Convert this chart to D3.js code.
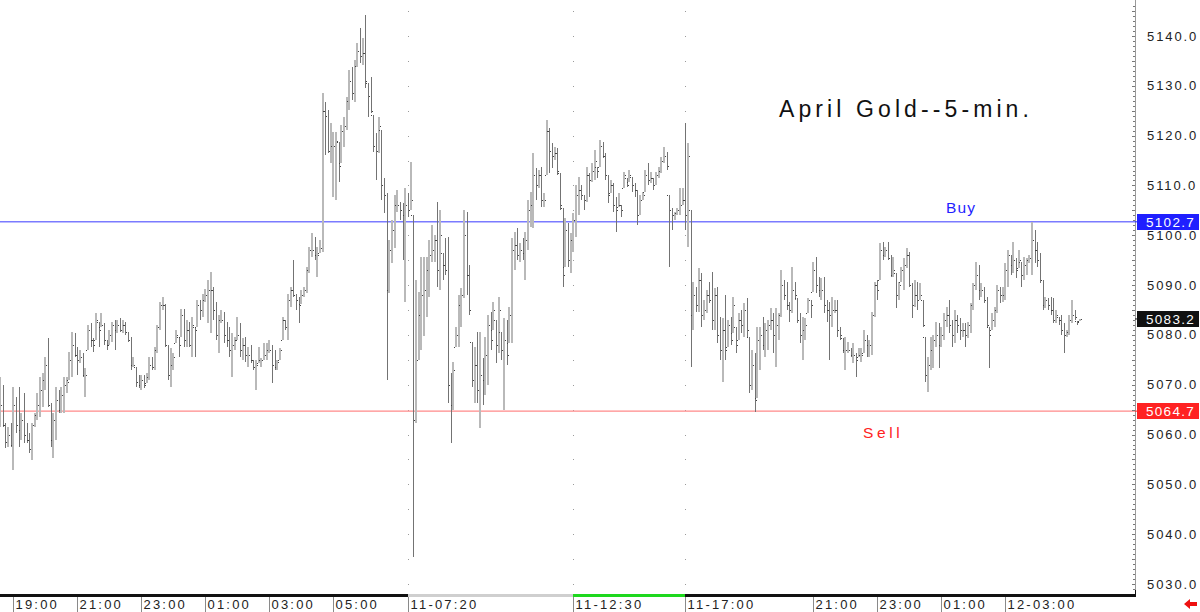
<!DOCTYPE html>
<html>
<head>
<meta charset="utf-8">
<script src="https://cdn.jsdelivr.net/npm/d3@7"></script>
<style>
html,body{margin:0;padding:0;background:#fff;}
svg{display:block;}
text{font-family:"Liberation Sans",Arial,sans-serif;}
</style>
</head>
<body>
<svg id="chart" width="1200" height="612"></svg>
<script>
// ---------- DATA ----------
const title = "April Gold--5-min.";
const buyLevel = 5102.7, sellLevel = 5064.7, lastPrice = 5083.2;
const buyLabel = "Buy", sellLabel = "Sell";
const yTicks = [5030,5040,5050,5060,5070,5080,5090,5100,5110,5120,5130,5140];
const timeLabels = ["19:00","21:00","23:00","01:00","03:00","05:00","11-07:20","11-12:30","11-17:00","21:00","23:00","01:00","12-03:00"];
const timeLabelIdx = [5,29,53,77,101,125,153,215,257,305,329,353,377];
const sessionIdx = [153,215,257];
const firstOpen = 5064.0;

const high = [
5071.5,5070.0,5062.3,5061.5,5062.3,5069.5,5067.5,5069.5,5064.3,5068.3,
5062.3,5060.3,5062.3,5064.3,5068.3,5071.5,5072.3,5075.5,5079.4,5066.3,
5064.3,5069.5,5068.9,5069.5,5071.5,5071.5,5076.5,5080.6,5080.4,5077.6,
5076.9,5076.3,5073.3,5082.0,5082.4,5079.4,5084.4,5082.6,5084.4,5082.4,
5079.0,5081.0,5082.6,5083.0,5083.0,5083.4,5083.0,5082.6,5080.6,5079.6,
5075.6,5073.6,5071.9,5071.9,5071.9,5072.3,5075.6,5075.6,5077.6,5082.0,
5086.6,5087.6,5086.3,5077.9,5077.3,5076.3,5081.0,5079.6,5085.3,5085.3,
5083.0,5082.6,5083.6,5081.6,5087.0,5087.0,5088.3,5089.3,5091.0,5092.7,
5089.7,5086.6,5084.0,5085.0,5084.6,5082.6,5081.6,5080.3,5079.6,5083.6,
5082.3,5079.3,5079.6,5077.6,5077.9,5074.9,5074.9,5077.6,5075.3,5078.3,
5078.3,5079.0,5077.9,5077.0,5074.9,5077.3,5083.6,5083.0,5088.3,5089.7,
5095.0,5088.3,5087.6,5089.0,5089.7,5093.6,5097.6,5100.4,5099.6,5097.6,
5099.0,5128.6,5126.7,5125.1,5122.5,5120.7,5120.7,5118.7,5122.1,5123.7,
5127.8,5133.2,5133.8,5135.2,5138.6,5141.6,5139.6,5144.2,5130.6,5131.8,
5124.1,5120.5,5123.7,5121.1,5111.5,5108.5,5099.0,5103.1,5108.1,5109.1,
5106.7,5106.5,5109.5,5108.5,5114.7,5104.1,5091.0,5088.6,5095.6,5095.6,
5095.6,5099.0,5102.0,5100.0,5106.7,5105.1,5096.4,5099.4,5099.6,5072.3,
5074.5,5081.6,5088.0,5089.4,5105.1,5104.7,5094.0,5078.6,5077.6,5080.6,
5080.6,5075.3,5079.6,5084.0,5084.6,5086.6,5083.0,5087.6,5080.6,5083.4,
5083.0,5085.6,5099.4,5100.6,5101.4,5098.4,5099.4,5100.6,5107.1,5108.7,
5116.5,5113.5,5113.1,5113.7,5108.5,5123.1,5121.5,5118.5,5117.7,5117.5,
5112.5,5105.5,5103.5,5102.4,5100.4,5104.5,5110.1,5111.7,5110.1,5108.1,
5113.7,5112.5,5114.5,5117.1,5113.7,5119.1,5118.7,5116.5,5112.1,5111.1,
5110.5,5107.7,5108.5,5106.1,5112.7,5111.5,5113.1,5111.7,5110.5,5109.1,
5108.1,5108.7,5113.1,5114.5,5112.7,5111.5,5112.7,5113.7,5115.7,5117.7,
5116.7,5108.1,5105.5,5104.7,5105.5,5109.5,5109.5,5122.5,5118.5,5105.1,
5090.6,5089.6,5093.4,5092.4,5087.0,5089.0,5090.6,5092.6,5089.4,5089.6,
5083.6,5083.4,5088.0,5083.0,5083.6,5087.6,5081.6,5084.4,5085.0,5086.4,
5087.4,5079.6,5076.9,5076.3,5081.6,5081.6,5083.6,5082.4,5083.0,5085.4,
5084.4,5085.4,5084.4,5093.0,5091.0,5090.6,5086.6,5093.6,5090.6,5087.4,
5084.4,5083.6,5083.4,5087.4,5087.0,5094.6,5095.6,5091.6,5091.4,5091.6,
5087.0,5086.6,5087.6,5087.0,5087.0,5081.6,5079.4,5079.6,5078.6,5077.3,
5078.4,5076.3,5077.3,5077.3,5081.0,5080.0,5079.0,5084.6,5090.6,5091.0,
5098.4,5098.6,5097.6,5098.6,5096.0,5095.6,5092.4,5090.6,5093.6,5095.4,
5097.4,5096.6,5090.4,5091.0,5090.6,5090.4,5087.0,5079.6,5075.5,5079.6,
5080.0,5082.6,5082.4,5081.6,5084.4,5085.6,5087.0,5083.0,5085.0,5084.0,
5083.4,5082.4,5082.4,5082.6,5086.4,5090.4,5094.6,5094.0,5090.4,5089.6,
5087.6,5081.6,5084.4,5085.6,5090.0,5089.6,5089.6,5094.4,5097.0,5096.0,
5098.6,5095.4,5097.0,5094.6,5095.6,5095.4,5096.0,5102.7,5101.0,5098.6,
5096.4,5091.0,5087.6,5087.4,5087.6,5087.4,5085.0,5083.6,5084.0,5082.4,
5081.0,5084.0,5087.0,5085.0,5082.8,5083.2
];

const low = [
5061.5,5061.5,5057.3,5057.5,5057.5,5052.8,5060.3,5057.5,5058.9,5058.3,
5058.3,5056.3,5054.9,5061.5,5062.9,5063.5,5065.5,5068.9,5065.5,5057.5,
5055.3,5058.9,5064.3,5064.3,5064.3,5068.3,5070.9,5071.5,5075.5,5071.9,
5074.3,5071.5,5067.5,5076.9,5077.6,5076.5,5079.0,5077.6,5081.6,5078.0,
5076.9,5078.0,5078.6,5076.9,5080.4,5080.6,5080.4,5080.0,5078.6,5072.9,
5073.6,5069.6,5069.3,5068.9,5069.3,5070.3,5070.9,5072.9,5072.9,5076.3,
5081.0,5085.0,5077.6,5070.9,5069.6,5072.9,5078.3,5075.6,5079.6,5077.6,
5077.6,5077.6,5075.6,5075.6,5081.6,5083.0,5083.6,5086.6,5082.3,5080.3,
5083.0,5079.0,5076.3,5082.3,5078.3,5077.6,5075.6,5071.6,5077.0,5079.0,
5075.6,5074.9,5074.6,5073.6,5074.3,5072.9,5068.9,5074.3,5073.6,5074.9,
5074.9,5076.3,5070.3,5072.9,5072.9,5074.9,5079.0,5081.0,5079.0,5085.6,
5087.6,5085.0,5082.3,5086.3,5087.6,5088.4,5092.4,5095.6,5095.0,5091.6,
5096.4,5096.6,5116.1,5116.5,5114.5,5107.7,5107.1,5110.7,5114.5,5117.7,
5121.1,5125.1,5127.1,5126.7,5133.8,5134.6,5134.2,5129.6,5123.7,5124.5,
5116.7,5111.1,5116.5,5107.1,5104.5,5070.9,5088.4,5094.4,5097.4,5104.7,
5103.1,5095.0,5086.6,5103.7,5105.1,5035.4,5062.3,5074.9,5076.9,5079.8,
5083.6,5087.6,5094.6,5094.6,5089.6,5089.0,5091.0,5092.0,5066.3,5058.3,
5064.9,5077.6,5077.6,5081.6,5087.4,5088.0,5084.0,5069.5,5066.3,5066.3,
5061.3,5065.9,5067.9,5069.9,5076.9,5081.0,5074.3,5076.3,5074.9,5064.9,
5073.9,5078.4,5078.4,5093.0,5095.0,5094.6,5095.0,5091.0,5097.0,5101.7,
5101.4,5107.1,5109.5,5105.7,5105.7,5112.1,5112.5,5113.5,5115.1,5112.1,
5105.1,5089.6,5093.6,5093.6,5092.4,5096.6,5099.6,5104.1,5107.1,5105.1,
5106.7,5107.7,5110.7,5111.1,5111.5,5113.7,5115.5,5111.1,5106.5,5108.5,
5104.7,5100.6,5105.7,5103.7,5109.5,5109.7,5110.7,5108.7,5107.7,5102.0,
5104.1,5107.1,5108.7,5110.1,5110.5,5109.1,5110.1,5111.5,5112.5,5114.5,
5113.1,5093.6,5101.0,5103.1,5104.1,5104.1,5106.1,5101.0,5097.6,5073.5,
5081.0,5084.6,5084.6,5081.6,5083.0,5084.4,5086.4,5081.0,5081.0,5078.4,
5074.9,5070.5,5074.9,5077.6,5078.0,5080.4,5076.3,5079.0,5080.4,5079.6,
5079.6,5068.3,5068.9,5064.5,5067.3,5072.9,5076.9,5075.5,5076.9,5081.0,
5076.3,5073.5,5079.0,5083.6,5087.0,5085.0,5082.6,5084.4,5087.0,5082.4,
5078.4,5074.9,5079.0,5084.4,5083.4,5088.6,5088.4,5087.6,5087.0,5084.4,
5082.6,5074.9,5081.6,5084.4,5079.6,5079.0,5076.3,5072.9,5076.3,5075.5,
5074.3,5071.5,5075.5,5074.5,5076.3,5075.5,5075.5,5075.9,5083.6,5087.0,
5091.0,5095.0,5095.6,5095.0,5091.6,5091.6,5085.4,5087.0,5090.6,5089.0,
5093.4,5089.6,5083.4,5085.6,5085.0,5087.0,5081.6,5070.5,5068.5,5072.9,
5073.3,5077.6,5073.3,5077.6,5079.0,5081.6,5080.4,5077.6,5078.4,5080.4,
5079.0,5079.6,5077.6,5079.4,5080.4,5085.0,5089.0,5087.0,5087.6,5086.4,
5081.4,5073.3,5081.0,5081.6,5084.4,5086.4,5086.6,5087.0,5089.6,5092.0,
5092.4,5091.4,5093.4,5089.6,5091.0,5092.0,5094.4,5092.0,5094.4,5093.6,
5090.4,5085.0,5085.4,5085.0,5084.0,5082.4,5082.4,5082.0,5080.0,5076.3,
5079.6,5080.0,5082.4,5083.0,5082.0,5082.8
];

const close = [
5066.0,5062.0,5058.5,5060.0,5058.0,5066.0,5062.0,5061.0,5063.0,5060.0,
5059.0,5057.0,5062.0,5064.0,5066.0,5069.0,5071.0,5074.0,5066.0,5059.0,
5063.0,5067.0,5065.0,5068.0,5070.0,5070.5,5075.0,5078.0,5076.0,5075.0,
5075.5,5072.0,5072.0,5081.0,5079.0,5078.0,5083.0,5081.0,5082.0,5079.0,
5078.0,5080.0,5082.0,5081.0,5082.0,5081.0,5082.0,5080.5,5079.0,5074.0,
5074.0,5070.5,5070.0,5071.0,5070.0,5071.5,5074.0,5073.5,5077.0,5081.5,
5086.0,5086.0,5078.0,5072.0,5074.0,5075.5,5080.0,5078.0,5084.0,5079.0,
5081.0,5078.0,5082.0,5081.0,5086.0,5085.0,5087.0,5088.0,5089.0,5089.0,
5085.0,5080.0,5083.0,5083.0,5080.0,5079.0,5077.0,5078.0,5079.0,5080.0,
5077.0,5078.0,5076.0,5076.0,5075.0,5073.5,5074.0,5075.0,5075.0,5076.0,
5077.0,5077.0,5074.0,5073.5,5074.5,5077.0,5083.0,5081.5,5087.0,5089.0,
5088.0,5087.0,5086.0,5088.0,5089.0,5093.0,5097.0,5097.0,5096.0,5096.0,
5097.5,5125.0,5124.0,5117.0,5118.0,5118.0,5119.0,5114.0,5121.0,5122.0,
5127.0,5131.0,5128.5,5134.0,5137.0,5136.0,5136.5,5131.0,5128.0,5125.0,
5118.0,5117.0,5122.0,5110.0,5108.0,5089.0,5097.0,5101.0,5106.0,5106.0,
5105.0,5104.0,5106.0,5105.0,5107.0,5063.0,5075.0,5084.0,5088.0,5089.0,
5093.0,5096.0,5097.0,5099.0,5093.0,5100.0,5094.0,5093.0,5070.0,5066.0,
5073.0,5080.0,5086.0,5088.0,5100.0,5092.0,5085.0,5071.0,5074.0,5069.0,
5072.0,5071.0,5076.0,5082.0,5079.0,5085.0,5078.0,5085.0,5077.0,5079.0,
5076.0,5084.0,5097.0,5098.0,5096.0,5097.0,5096.5,5099.0,5105.0,5106.0,
5112.0,5110.0,5112.0,5107.0,5107.0,5121.0,5117.0,5116.0,5116.5,5113.0,
5106.0,5092.0,5101.0,5095.0,5099.0,5103.0,5108.0,5109.0,5108.0,5107.0,
5112.0,5111.0,5113.0,5115.0,5113.0,5118.0,5116.0,5112.0,5108.0,5110.0,
5106.0,5105.0,5106.0,5105.0,5112.0,5110.0,5112.0,5110.0,5109.0,5104.0,
5107.0,5108.0,5112.0,5111.0,5111.5,5110.0,5112.0,5113.0,5115.0,5116.0,
5114.0,5105.0,5104.0,5104.5,5105.0,5106.0,5107.0,5104.0,5116.0,5084.0,
5088.0,5086.0,5091.0,5084.0,5085.0,5088.0,5087.0,5083.0,5088.0,5080.0,
5077.0,5081.0,5077.0,5082.0,5079.0,5086.0,5078.0,5083.0,5082.0,5085.0,
5081.0,5070.0,5074.0,5067.0,5079.0,5080.0,5078.0,5081.0,5082.0,5083.0,
5080.0,5082.0,5084.0,5090.0,5088.0,5086.0,5085.0,5089.0,5088.0,5083.0,
5080.0,5081.0,5082.0,5087.0,5086.0,5093.0,5090.0,5089.0,5089.0,5086.0,
5085.0,5084.0,5085.0,5085.0,5081.0,5080.0,5077.0,5077.0,5077.0,5076.0,
5076.0,5075.0,5076.0,5076.0,5079.0,5078.0,5078.0,5084.0,5090.0,5089.0,
5097.0,5096.0,5097.0,5095.5,5092.0,5093.0,5088.0,5090.0,5093.0,5094.0,
5096.0,5090.0,5086.0,5088.0,5087.0,5088.0,5082.0,5072.0,5074.0,5077.0,
5079.0,5080.0,5078.0,5080.0,5083.0,5084.0,5082.0,5080.0,5083.0,5082.0,
5081.0,5081.0,5080.0,5082.0,5086.0,5090.0,5092.0,5089.0,5089.0,5087.0,
5082.0,5080.0,5083.0,5085.0,5089.0,5088.0,5088.0,5093.0,5096.0,5094.0,
5095.0,5093.0,5095.0,5092.0,5094.0,5095.0,5095.5,5099.0,5097.0,5095.0,
5091.0,5086.0,5087.0,5086.0,5085.0,5083.0,5084.0,5083.0,5081.0,5080.0,
5080.5,5083.0,5084.0,5083.5,5082.5,5083.2
];

// ---------- BUILD ----------
const n = Math.min(high.length, low.length, close.length);
const bars = [];
for (let i = 0; i < n; i++) {
  const prev = i === 0 ? firstOpen : close[i-1];
  const o = Math.max(low[i], Math.min(high[i], prev)); // open = prior close, within the bar's range
  bars.push({i, o, h: high[i], l: low[i], c: close[i]});
}

const svg = d3.select("#chart");
const W = 1200, H = 612;
const axisX = 1135;
const x = d3.scaleLinear().domain([0, 450]).range([0, 1200]);
const y = d3.scaleLinear().domain([5030, 5140]).range([584, 36]);

svg.append("rect").attr("width", W).attr("height", H).attr("fill", "#fff");

// session dotted verticals
const dotLevels = d3.range(5030, 5146, 5);
sessionIdx.forEach(si => {
  const px = Math.round(x(si));
  svg.append("g").selectAll("rect").data(dotLevels).join("rect")
    .attr("x", px).attr("y", d => Math.round(y(d))).attr("width", 1).attr("height", 1)
    .attr("fill", "#9a9a9a");
});

// buy/sell lines
svg.append("line").attr("x1", 0).attr("x2", axisX).attr("y1", y(buyLevel)).attr("y2", y(buyLevel))
  .attr("stroke", "#7b7bff").attr("stroke-width", 1.4);
svg.append("line").attr("x1", 0).attr("x2", axisX).attr("y1", y(sellLevel)).attr("y2", y(sellLevel))
  .attr("stroke", "#ff8a8a").attr("stroke-width", 1.4);

// bars
const gBars = svg.append("g").attr("shape-rendering", "crispEdges");
bars.forEach(b => {
  const up = b.c >= b.o;
  const cx = Math.round(x(b.i));
  const yh = y(b.h), yl = y(b.l);
  if (up) {
    gBars.append("rect").attr("x", cx - 1).attr("y", yh).attr("width", 2).attr("height", Math.max(1, yl - yh))
      .attr("fill", "#b9b9b9");
  } else {
    gBars.append("rect").attr("x", cx).attr("y", yh).attr("width", 1).attr("height", Math.max(1, yl - yh))
      .attr("fill", "#737373");
  }
  gBars.append("rect").attr("x", cx - 2).attr("y", Math.round(y(b.o))).attr("width", 1).attr("height", 1).attr("fill", "#444");
  gBars.append("rect").attr("x", cx + 1).attr("y", Math.round(y(b.c))).attr("width", 1).attr("height", 1).attr("fill", "#444");
});

// right axis
svg.append("line").attr("x1", axisX + 0.5).attr("x2", axisX + 0.5).attr("y1", 0).attr("y2", 596)
  .attr("stroke", "#9a9a9a").attr("stroke-width", 1);
const minor = d3.range(5029, 5147, 1);
svg.append("g").attr("shape-rendering", "crispEdges").selectAll("line").data(minor).join("line")
  .attr("x1", d => d % 5 === 0 ? axisX - 3 : axisX - 2).attr("x2", axisX)
  .attr("y1", d => Math.round(y(d)) + 0.5).attr("y2", d => Math.round(y(d)) + 0.5)
  .attr("stroke", "#777");

svg.append("g").selectAll("text").data(yTicks).join("text")
  .attr("x", 1147).attr("y", d => y(d) + 4.5)
  .attr("font-size", 13).attr("letter-spacing", "1.9px").attr("fill", "#222")
  .text(d => d3.format(".1f")(d));

// price tags
const tags = [
  {v: buyLevel, fill: "#1f1fff"},
  {v: lastPrice, fill: "#111111"},
  {v: sellLevel, fill: "#ff2222"}
];
tags.forEach(t => {
  svg.append("line").attr("x1", axisX).attr("x2", 1138).attr("y1", y(t.v)).attr("y2", y(t.v))
    .attr("stroke", t.fill).attr("stroke-width", 1);
  svg.append("rect").attr("x", 1137).attr("y", Math.round(y(t.v)) - 8).attr("width", 62).attr("height", 16)
    .attr("fill", t.fill);
  svg.append("text").attr("x", 1146).attr("y", Math.round(y(t.v)) + 5)
    .attr("font-size", 13.5).attr("letter-spacing", "1.3px").attr("fill", "#fff")
    .text(d3.format(".1f")(t.v));
});

// bottom axis strip
const segs = [
  {a: 0, b: x(sessionIdx[0]), col: "#111"},
  {a: x(sessionIdx[0]), b: x(sessionIdx[1]), col: "#cfcfcf"},
  {a: x(sessionIdx[1]), b: x(sessionIdx[2]), col: "#1ed81e"},
  {a: x(sessionIdx[2]), b: axisX, col: "#111"}
];
svg.append("g").attr("shape-rendering", "crispEdges").selectAll("rect").data(segs).join("rect")
  .attr("x", d => Math.round(d.a)).attr("y", 594).attr("width", d => Math.round(d.b) - Math.round(d.a)).attr("height", 3)
  .attr("fill", d => d.col);
svg.append("line").attr("x1", axisX + 0.5).attr("x2", axisX + 0.5).attr("y1", 590).attr("y2", 597)
  .attr("stroke", "#111").attr("stroke-width", 1);

const gT = svg.append("g");
timeLabels.forEach((lab, k) => {
  const px = Math.round(x(timeLabelIdx[k])) + 0.5;
  gT.append("line").attr("x1", px).attr("x2", px).attr("y1", 597).attr("y2", 612)
    .attr("stroke", "#8a8a8a").attr("stroke-width", 1);
  gT.append("text").attr("x", px + 2).attr("y", 609)
    .attr("font-size", 13).attr("letter-spacing", "2.2px").attr("fill", "#222").text(lab);
});

// red arrow
svg.append("path").attr("d", "M1184,604 L1190,599 L1190,602 L1197,602 L1197,606 L1190,606 L1190,609 Z")
  .attr("fill", "#ee1111");

// annotations
svg.append("text").attr("x", 779).attr("y", 117).attr("font-size", 23).attr("letter-spacing", "4.1px")
  .attr("fill", "#111").text(title);
svg.append("text").attr("x", 946).attr("y", 213).attr("font-size", 15.5).attr("letter-spacing", "1.2px")
  .attr("fill", "#1f1fff").text(buyLabel);
svg.append("text").attr("x", 863).attr("y", 438).attr("font-size", 15.5).attr("letter-spacing", "3.6px")
  .attr("fill", "#ff2222").text(sellLabel);
</script>
</body>
</html>
